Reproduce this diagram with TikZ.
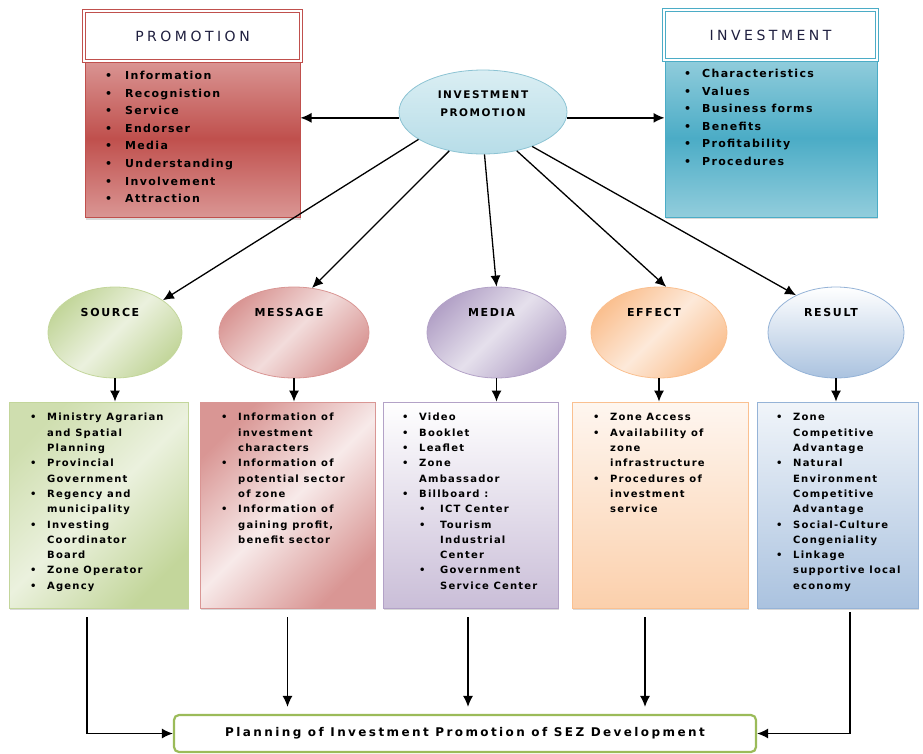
\documentclass[tikz,border=0pt]{standalone}
\usepackage{fontspec}
\setmainfont{DejaVu Sans}
\newfontfamily\listfont[LetterSpace=12]{DejaVu Sans}
\newfontfamily\headfont[LetterSpace=25]{DejaVu Sans}
\newfontfamily\capfont[LetterSpace=15]{DejaVu Sans}
\newfontfamily\planfont[LetterSpace=20]{DejaVu Sans}
\usetikzlibrary{arrows.meta,positioning,shapes.geometric,shadows}

\definecolor{promored}{HTML}{C0504D}
\definecolor{promolight}{HTML}{DA9694}
\definecolor{investblue}{HTML}{4BACC6}
\definecolor{investlight}{HTML}{92CDDC}
\definecolor{hubtop}{HTML}{DAEEF3}
\definecolor{hubbot}{HTML}{B7DDE8}
\definecolor{hubedge}{HTML}{8CC3D3}
\definecolor{srcdark}{HTML}{C3D69B}
\definecolor{srclight}{HTML}{EBF1DE}
\definecolor{msgdark}{HTML}{D99694}
\definecolor{msglight}{HTML}{F2DCDB}
\definecolor{meddark}{HTML}{B3A2C7}
\definecolor{medlight}{HTML}{E5E0EC}
\definecolor{effdark}{HTML}{FAC090}
\definecolor{efflight}{HTML}{FDE9D9}
\definecolor{resdark}{HTML}{95B3D7}
\definecolor{reslight}{HTML}{DBE5F1}
\definecolor{planedge}{HTML}{9BBB59}
\definecolor{titletext}{HTML}{1F1F3F}

\tikzset{
  headbox/.style={rectangle, draw=#1, double=white, double distance=1.4pt, line width=1.6pt, fill=white,
    inner sep=0pt, minimum height=50pt, text=titletext, font=\headfont\fontsize{14}{16}\selectfont},
  bodybox/.style={rectangle, draw=#1, line width=1pt, inner sep=0pt, minimum height=158pt,
    drop shadow={opacity=0.3, shadow xshift=1pt, shadow yshift=-2pt}},
  hub/.style={ellipse, draw=hubedge, line width=0.8pt, top color=hubtop, bottom color=hubbot,
    minimum width=168pt, minimum height=84pt, inner sep=0pt},
  hublbl/.style={align=center, font=\capfont\bfseries\fontsize{10.5}{18}\selectfont, yshift=8pt},
  topic/.style={ellipse, draw=#1, line width=0.8pt, minimum height=91pt, inner sep=0pt},
  toplbl/.style={font=\capfont\bfseries\fontsize{11}{13}\selectfont, xshift=-5pt, yshift=20pt},
  infobox/.style={rectangle, draw=#1, line width=0.8pt, inner sep=0pt, minimum height=206pt,
    drop shadow={opacity=0.3, shadow xshift=1pt, shadow yshift=-2pt}},
  biglist/.style={anchor=north west, inner sep=0pt, font=\listfont\bfseries\fontsize{11}{17.6}\selectfont},
  smalllist/.style={anchor=north west, inner sep=0pt, font=\listfont\bfseries\fontsize{10}{15.3}\selectfont},
  plan/.style={rectangle, rounded corners=5pt, draw=planedge, line width=2.2pt, fill=white,
    minimum width=582pt, minimum height=37pt, font=\planfont\bfseries\fontsize{12}{14}\selectfont},
  arr/.style={draw, line width=1.3pt, -{Latex[length=11pt,width=10pt]}},
}

\begin{document}
\begin{tikzpicture}[x=1pt,y=-1pt]
  \useasboundingbox (0,0) rectangle (923,753);
  %top boxes
  \node[bodybox=promored, minimum width=215pt, top color=promolight, bottom color=promolight, middle color=promored] (promobody) at (192.5,138.5) {};
  \node[headbox=promored, minimum width=217pt] (promohead) at (192.5,36) {PROMOTION};
  \node[bodybox=investblue, minimum width=212pt, top color=investlight, bottom color=investlight, middle color=investblue] (investbody) at (771,138) {};
  \node[headbox=investblue, minimum width=213pt] (investhead) at (770.5,35) {INVESTMENT};
  \node[biglist] (promolist) at (105,67) {\begin{tabular}{@{}p{20pt}@{}l@{}}
    \textbullet & Information\\
    \textbullet & Recognistion\\
    \textbullet & Service\\
    \textbullet & Endorser\\
    \textbullet & Media\\
    \textbullet & Understanding\\
    \textbullet & Involvement\\
    \textbullet & Attraction
  \end{tabular}};
  \node[biglist] (investlist) at (684,65) {\begin{tabular}{@{}p{18pt}@{}l@{}}
    \textbullet & Characteristics\\
    \textbullet & Values\\
    \textbullet & Business forms\\
    \textbullet & Benefits\\
    \textbullet & Profitability\\
    \textbullet & Procedures
  \end{tabular}};
  %centre
  \node[hub, label={[hublbl]center:INVESTMENT\\PROMOTION}] (ip) at (483,112) {};
  %topics
  \node[topic=srcdark, minimum width=134pt, left color=srcdark, right color=srcdark, middle color=srclight, shading angle=45, label={[toplbl]center:SOURCE}] (src) at (115,332.5) {};
  \node[topic=msgdark, minimum width=150pt, left color=msgdark, right color=msgdark, middle color=msglight, shading angle=45, label={[toplbl]center:MESSAGE}] (msg) at (294,332.5) {};
  \node[topic=meddark, minimum width=139pt, left color=meddark, right color=meddark, middle color=medlight, shading angle=45, label={[toplbl]center:MEDIA}] (med) at (496.5,332.5) {};
  \node[topic=effdark, minimum width=136pt, left color=effdark, right color=effdark, middle color=efflight, shading angle=45, label={[toplbl]center:EFFECT}] (eff) at (659,332.5) {};
  \node[topic=resdark, minimum width=136pt, top color=white, bottom color=resdark!80, label={[toplbl]center:RESULT}] (res) at (836,332.5) {};
  %lower boxes
  \node[infobox=srcdark, minimum width=179pt, left color=srcdark!80, right color=srcdark, middle color=srclight, shading angle=45] (srcbox) at (98.5,505) {};
  \node[infobox=msgdark, minimum width=175pt, left color=msgdark, right color=msgdark, middle color=msglight!60, shading angle=45] (msgbox) at (287.5,505) {};
  \node[infobox=meddark, minimum width=175pt, top color=white, bottom color=meddark!70] (medbox) at (470.5,505) {};
  \node[infobox=effdark, minimum width=176pt, top color=efflight!40, bottom color=effdark!75] (effbox) at (660,505) {};
  \node[infobox=resdark, minimum width=161pt, top color=reslight!40, bottom color=resdark!80] (resbox) at (837.5,505) {};
  \node[smalllist] (srclist) at (30,410) {\begin{tabular}{@{}p{17pt}@{}l@{}}
    \textbullet & Ministry Agrarian\\
     & and Spatial\\
     & Planning\\
    \textbullet & Provincial\\
     & Government\\
    \textbullet & Regency and\\
     & municipality\\
    \textbullet & Investing\\
     & Coordinator\\
     & Board\\
    \textbullet & Zone Operator\\
    \textbullet & Agency
  \end{tabular}};
  \node[smalllist] (msglist) at (221,410) {\begin{tabular}{@{}p{17pt}@{}l@{}}
    \textbullet & Information of\\
     & investment\\
     & characters\\
    \textbullet & Information of\\
     & potential sector\\
     & of zone\\
    \textbullet & Information of\\
     & gaining profit,\\
     & benefit sector
  \end{tabular}};
  \node[smalllist] (medlist) at (402,410) {\begin{tabular}{@{}p{17pt}@{}l@{}}
    \textbullet & Video\\
    \textbullet & Booklet\\
    \textbullet & Leaflet\\
    \textbullet & Zone\\
     & Ambassador\\
    \textbullet & Billboard :\\
     & \makebox[21pt][l]{\textbullet}ICT Center\\
     & \makebox[21pt][l]{\textbullet}Tourism\\
     & \hspace{21pt}Industrial\\
     & \hspace{21pt}Center\\
     & \makebox[21pt][l]{\textbullet}Government\\
     & \hspace{21pt}Service Center
  \end{tabular}};
  \node[smalllist] (efflist) at (593,410) {\begin{tabular}{@{}p{17pt}@{}l@{}}
    \textbullet & Zone Access\\
    \textbullet & Availability of\\
     & zone\\
     & infrastructure\\
    \textbullet & Procedures of\\
     & investment\\
     & service
  \end{tabular}};
  \node[smalllist] (reslist) at (776,410) {\begin{tabular}{@{}p{17pt}@{}l@{}}
    \textbullet & Zone\\
     & Competitive\\
     & Advantage\\
    \textbullet & Natural\\
     & Environment\\
     & Competitive\\
     & Advantage\\
    \textbullet & Social-Culture\\
     & Congeniality\\
    \textbullet & Linkage\\
     & supportive local\\
     & economy
  \end{tabular}};
  %bottom
  \node[plan] (plan) at (465,733.5) {Planning of Investment Promotion of SEZ Development};
  %edges
  \path [arr] (ip.184) -- (ip.184 -| promobody.east);
  \path [arr] (ip.356) -- (ip.356 -| investbody.west);
  \path [arr] (ip.203) -- (src.34);
  \path [arr] (ip.229) -- (msg.68);
  \path [arr] (ip.272) -- (med.90);
  \path [arr] (ip.311) -- (eff.81);
  \path [arr] (ip.325) -- (res.137);
  \path [arr] (src.south) -- (src.south |- srcbox.north);
  \path [arr] (msg.south) -- (msg.south |- msgbox.north);
  \path [arr] (med.south) -- (med.south |- medbox.north);
  \path [arr] (eff.south) -- (eff.south |- effbox.north);
  \path [arr] (res.south) -- (res.south |- resbox.north);
  \path [arr, shorten <=9pt] ([xshift=-11.5pt]srcbox.south) |- (plan.west);
  \path [arr, shorten <=9pt, shorten >=7pt] (msgbox.south) -- (msgbox.south |- plan.north);
  \path [arr, shorten <=9pt, shorten >=7pt] ([xshift=-2.5pt]medbox.south) -- ([xshift=-2.5pt]medbox.south |- plan.north);
  \path [arr, shorten <=9pt, shorten >=7pt] ([xshift=-15pt]effbox.south) -- ([xshift=-15pt]effbox.south |- plan.north);
  \path [arr, shorten <=4pt] ([xshift=12.5pt]resbox.south) |- (plan.east);
\end{tikzpicture}
\end{document}
